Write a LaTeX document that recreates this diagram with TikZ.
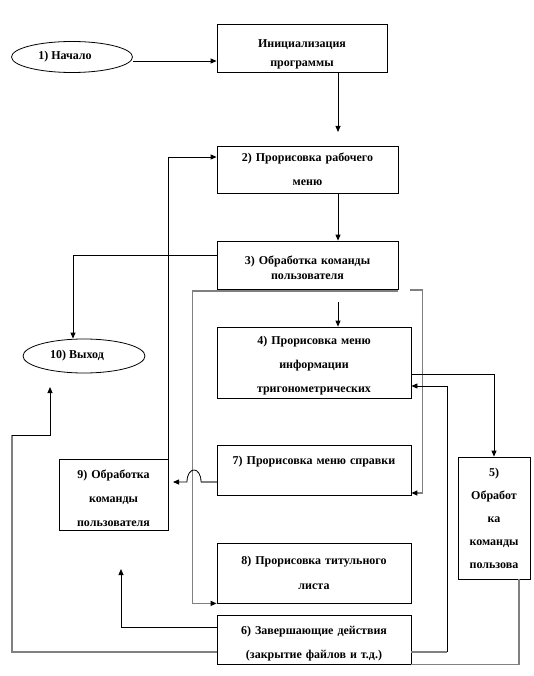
\documentclass[tikz,border=0pt]{standalone}
\usepackage{fontspec}
\setmainfont{Liberation Serif}
\usetikzlibrary{arrows.meta,shapes.geometric}
\tikzset{
  box/.style={draw, line width=0.8pt, inner sep=0pt, align=center, font=\fontsize{12}{24}\selectfont\bfseries},
  tdown/.style={execute at begin node={\rule{0pt}{#1}}},
  oval/.style={draw, ellipse, line width=0.8pt, inner sep=0pt, font=\fontsize{12}{14}\selectfont\bfseries},
  arr/.style={line width=0.8pt, -{Triangle[length=6pt,width=5pt]}},
  gl/.style={line width=1.3pt, draw=gray},
  garr/.style={line width=1.3pt, draw=gray, -{Triangle[length=6pt,width=5pt,color=black]}}
}
\begin{document}
\begin{tikzpicture}[x=1pt,y=-1pt]
\useasboundingbox (0,0) rectangle (534,676);
% nodes
\node[oval, minimum width=121pt, minimum height=31pt] (e1) at (72,57) {\hspace*{-14pt}1) Начало};
\node[oval, minimum width=122pt, minimum height=34pt] (e10) at (84,356) {\hspace*{-14pt}10) Выход};
\node[box, tdown=20pt, minimum width=170pt, minimum height=48pt, text width=166pt, font=\fontsize{12}{19}\selectfont\bfseries] (b1) at (302,48) {Инициализация\\программы};
\node[box, minimum width=181pt, minimum height=47pt, text width=177pt] (b2) at (307.5,169.5) {2) Прорисовка рабочего\\меню};
\node[box, tdown=15pt, minimum width=181pt, minimum height=48pt, text width=177pt, font=\fontsize{12}{15}\selectfont\bfseries] (b3) at (307.5,265) {3) Обработка команды\\пользователя};
\node[box, tdown=15pt, minimum width=194pt, minimum height=71pt, text width=190pt] (b4) at (314,362.5) {4) Прорисовка меню\\информации\\тригонометрических};
\node[box, tdown=19pt, minimum width=194pt, minimum height=49pt, text width=190pt] (b7) at (314,470.5) {7) Прорисовка меню справки\\\strut};
\node[box, tdown=8pt, minimum width=194pt, minimum height=60pt, text width=190pt, font=\fontsize{12}{25}\selectfont\bfseries] (b8) at (314,573) {8) Прорисовка титульного\\листа};
\node[box, tdown=17pt, minimum width=194pt, minimum height=49pt, text width=190pt] (b6) at (314,639.5) {6) Завершающие действия\\(закрытие файлов и т.д.)};
\node[box, tdown=17pt, minimum width=109pt, minimum height=71pt, text width=105pt] (b9) at (113.5,494.5) {9) Обработка\\команды\\пользователя};
\node[box, minimum width=72pt, minimum height=122pt, text width=70pt, font=\fontsize{12}{23}\selectfont\bfseries] (b5) at (494,518) {5)\\Обработ\\ка\\команды\\пользова};
% free coordinates
\coordinate (c1) at (338,132);
\coordinate (c3) at (338,302);
\coordinate (g2) at (410,290);
\coordinate (c4) at (447,652);
\coordinate (c5) at (121,569);
\coordinate (g3) at (12,435);
\coordinate (c6) at (50,387);
\coordinate (h1) at (201,482);
\coordinate (h2) at (187,482);
\coordinate (h3) at (173,482);
% connectors
\draw[arr] ([yshift=-4pt]e1.east) -- ([yshift=-13pt]b1.west);
\draw[arr] (b1.south -| c1) -- (c1);
\draw[arr] (b2.south -| c1) -- (b3.north -| c1);
\draw[arr] ([yshift=10pt]b3.west) -| ([xshift=-11pt]e10.north);
\draw[arr] (b9.north east) |- ([yshift=12.5pt]b2.west);
\draw[garr] ([yshift=-1.5pt]b3.south east) -| ([xshift=-24pt]b8.south west) -- (b8.south west);
\draw[garr] (g2) -| ([xshift=11pt,yshift=3pt]b7.south east) -- ([yshift=3pt]b7.south east);
\draw[arr] (c3) -- (b4.north -| c3);
\draw[arr] ([yshift=-11.5pt]b4.east) -| (b5.north);
\draw[gl] ([yshift=-12.5pt]b6.east) -- (c4);
\draw[arr] (c4) |- ([yshift=-23.5pt]b4.east);
\draw[gl] ([xshift=25pt]b5.south) |- (b6.south east);
\draw[arr] ([yshift=12.5pt]b6.west) -| (c5);
\draw[gl] ([yshift=-12.5pt]b6.west) -| (g3);
\draw[arr] (g3) -| (c6);
\draw[gl] ([yshift=-11.5pt]b7.west) -- (h1);
\draw[arr] (h1) .. controls (201,466) and (187,466) .. (h2) -- (h3);
\end{tikzpicture}
\end{document}
